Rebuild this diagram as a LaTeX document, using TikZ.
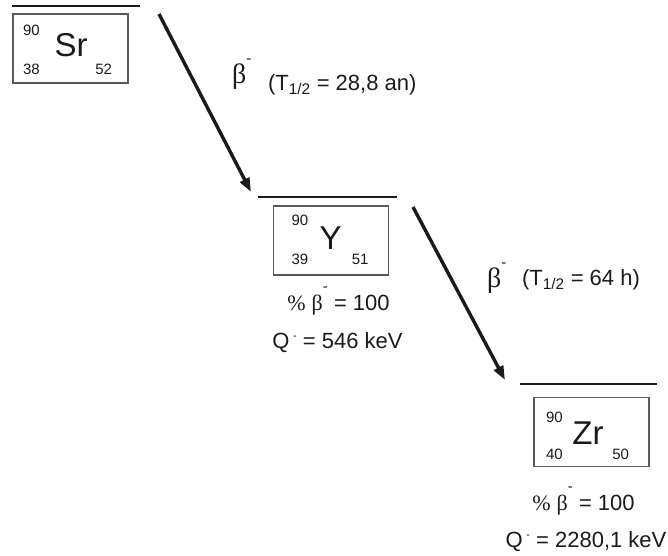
\documentclass[tikz,border=0pt]{standalone}
\usepackage{fontspec}
\setmainfont{Liberation Sans}
\newfontfamily\greekfont{Liberation Serif}
\usetikzlibrary{arrows.meta,positioning}
\definecolor{InkBlack}{HTML}{1A1A1A}
\definecolor{FrameGray}{HTML}{5A5A5A}
\newcommand{\fsz}[1]{\fontsize{#1}{#1}\selectfont}
\newcommand{\betaminus}[2]{{\greekfont\fsz{#1}β}\raisebox{#2}{\fsz{15}-}}
\newcommand{\qminus}{Q\,\raisebox{9pt}{\fsz{11}-}}

\begin{document}
\begin{tikzpicture}[x=1pt,y=-1pt,
  every node/.style={inner sep=0pt,outer sep=0pt,text=InkBlack},
  nucbox/.style={draw=FrameGray,line width=1.3pt,minimum width=115pt,minimum height=69pt},
  level/.style={line width=2.9pt,draw=InkBlack},
  decay/.style={-{Triangle[length=14pt,width=10pt]},line width=3.4pt,draw=InkBlack},
  elem/.style={font=\fsz{33}},
  nucnum/.style={font=\fsz{15}},
  info/.style={font=\fsz{22},anchor=base},
  halflife/.style={font=\fsz{22},anchor=base west}
]
\useasboundingbox (0,0) rectangle (668,555);

% niveaux
\draw[level] (12,6) -- (140,6);
\draw[level] (258,197) -- (397,197);
\draw[level] (520,384) -- (657,384);

% 90Sr
\node[nucbox] (sr) at (70.5,48.5) {};
\node[elem] (sr-el) at (71,45.5) {Sr};
\node[nucnum,below right=11pt and 10pt of sr.north west] (sr-a) {90};
\node[nucnum,above right=8pt and 10pt of sr.south west] (sr-z) {38};
\node[nucnum,above left=8pt and 16pt of sr.south east] (sr-n) {52};

% 90Y
\node[nucbox] (y) at (331,240.5) {};
\node[elem] (y-el) at (330.5,238.5) {Y};
\node[nucnum,below right=9pt and 18pt of y.north west] (y-a) {90};
\node[nucnum,above right=10pt and 18pt of y.south west] (y-z) {39};
\node[nucnum,above left=10pt and 20pt of y.south east] (y-n) {51};
\node[info] (y-pct) at (338.5,310) {{\greekfont\%} \betaminus{22}{19pt} = 100};
\node[info] (y-q) at (337.5,348) {\qminus{} = 546 keV};

% 90Zr
\node[nucbox] (zr) at (591.5,432) {};
\node[elem] (zr-el) at (588,433.5) {Zr};
\node[nucnum,below right=15pt and 12pt of zr.north west] (zr-a) {90};
\node[nucnum,above right=7pt and 12pt of zr.south west] (zr-z) {40};
\node[nucnum,above left=7pt and 20pt of zr.south east] (zr-n) {50};
\node[info] (zr-pct) at (583.5,510) {{\greekfont\%} \betaminus{22}{19pt} = 100};
\node[info] (zr-q) at (586,547) {\qminus{} = 2280,1 keV};

% desintegrations
\coordinate (d1-top) at (159,14);
\coordinate (d1-end) at (251,192);
\coordinate (d2-top) at (413,207);
\coordinate (d2-end) at (505,380);
\draw[decay] (d1-top) -- (d1-end);
\draw[decay] (d2-top) -- (d2-end);
\node[anchor=base west] (b1) at (232,83) {\betaminus{28}{20pt}};
\node[halflife] (t1) at (268,90) {(T\textsubscript{1/2} = 28,8 an)};
\node[anchor=base west] (b2) at (487,287) {\betaminus{28}{20pt}};
\node[halflife] (t2) at (522,285) {(T\textsubscript{1/2} = 64 h)};
\end{tikzpicture}
\end{document}
